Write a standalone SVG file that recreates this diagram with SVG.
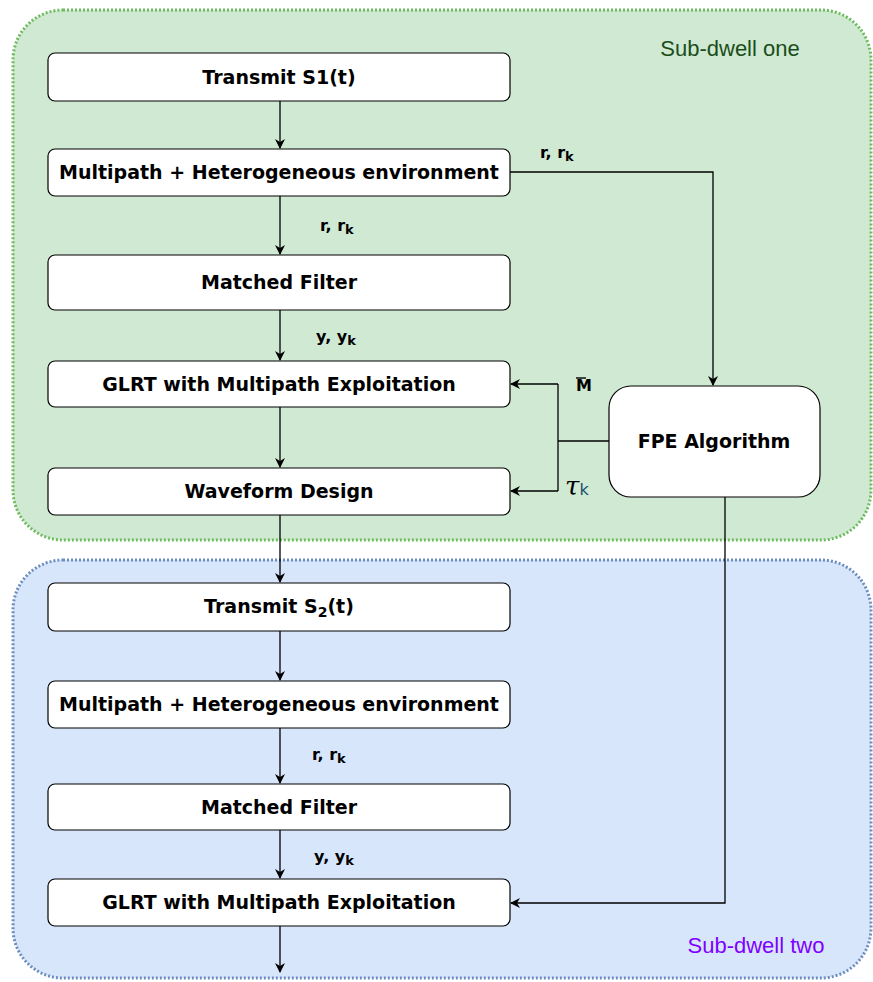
<svg xmlns="http://www.w3.org/2000/svg" width="873" height="982" viewBox="0 0 873 982">
<defs>
<marker id="ah" markerWidth="10" markerHeight="10" refX="9" refY="5" orient="auto" markerUnits="userSpaceOnUse">
<path d="M0,0 L10,5 L0,10 L3,5 Z" fill="#000"/>
</marker>
<style>
.box{fill:#fff;stroke:#000;stroke-width:1.2}
.t{font-family:"DejaVu Sans",Verdana,sans-serif;font-weight:bold;font-size:19px;fill:#000;text-anchor:middle}
.lbl{font-family:"DejaVu Sans",Verdana,sans-serif;font-weight:bold;font-size:16px;fill:#000}
.sub{font-size:13px}
.c{fill:none;stroke:#000;stroke-width:1.3}
</style>
</defs>
<rect x="0" y="0" width="873" height="982" fill="#fff"/>
<g id="subdwell-one">
<rect x="13" y="10" width="858" height="530" rx="50" fill="#d0e9d2" stroke="#6dbb5e" stroke-width="3" stroke-dasharray="2 2"/>
<text x="730" y="56" font-family="Liberation Sans,Arial,sans-serif" font-size="22" fill="#1a4d1a" text-anchor="middle">Sub-dwell one</text>
</g>
<g id="subdwell-two">
<rect x="13" y="560" width="858" height="418" rx="50" fill="#d8e6fb" stroke="#6c8ebf" stroke-width="3" stroke-dasharray="2 2"/>
<text x="756" y="953" font-family="Liberation Sans,Arial,sans-serif" font-size="22" fill="#7f00ff" text-anchor="middle">Sub-dwell two</text>
</g>
<g id="connectors">
<path class="c" d="M280,101 V148" marker-end="url(#ah)"/>
<path class="c" d="M280,196 V254" marker-end="url(#ah)"/>
<path class="c" d="M280,310 V360" marker-end="url(#ah)"/>
<path class="c" d="M280,407 V467" marker-end="url(#ah)"/>
<path class="c" d="M280,515 V582" marker-end="url(#ah)"/>
<path class="c" d="M280,631 V680" marker-end="url(#ah)"/>
<path class="c" d="M280,728 V783" marker-end="url(#ah)"/>
<path class="c" d="M280,830 V878" marker-end="url(#ah)"/>
<path class="c" d="M280,926 V972" marker-end="url(#ah)"/>
<path class="c" d="M510,172 H713 V385" marker-end="url(#ah)"/>
<path class="c" d="M609,441 H558"/>
<path class="c" d="M558,384 V491"/>
<path class="c" d="M558,384 H511" marker-end="url(#ah)"/>
<path class="c" d="M558,491 H511" marker-end="url(#ah)"/>
<path class="c" d="M725,497 V903 H511" marker-end="url(#ah)"/>
</g>
<g id="labels">
<text class="lbl" x="540" y="158">r, r<tspan class="sub" dy="3">k</tspan></text>
<text class="lbl" x="320" y="231">r, r<tspan class="sub" dy="3">k</tspan></text>
<text class="lbl" x="316" y="342">y, y<tspan class="sub" dy="3">k</tspan></text>
<text class="lbl" x="576" y="391" font-size="12">M</text>
<line x1="576" y1="378" x2="586" y2="378" stroke="#000" stroke-width="1.4"/>
<text x="565" y="495" font-family="DejaVu Serif,serif" font-style="italic" font-size="26" fill="#000">τ<tspan font-family="DejaVu Sans,sans-serif" font-style="normal" font-size="16" fill="#1a4d6a">k</tspan></text>
<text class="lbl" x="312" y="760">r, r<tspan class="sub" dy="3">k</tspan></text>
<text class="lbl" x="314" y="862">y, y<tspan class="sub" dy="3">k</tspan></text>
</g>
<g id="transmit1"><rect class="box" x="48" y="53" width="462" height="48" rx="7"/><text class="t" x="279" y="84">Transmit S1(t)</text></g>
<g id="multipath1"><rect class="box" x="48" y="149" width="462" height="47" rx="7"/><text class="t" x="279" y="179">Multipath + Heterogeneous environment</text></g>
<g id="matched1"><rect class="box" x="48" y="255" width="462" height="55" rx="7"/><text class="t" x="279" y="289">Matched Filter</text></g>
<g id="glrt1"><rect class="box" x="48" y="361" width="462" height="46" rx="7"/><text class="t" x="279" y="391">GLRT with Multipath Exploitation</text></g>
<g id="waveform"><rect class="box" x="48" y="468" width="462" height="47" rx="7"/><text class="t" x="279" y="498">Waveform Design</text></g>
<g id="fpe"><rect class="box" x="609" y="386" width="211" height="111" rx="22"/><text class="t" x="714" y="448">FPE Algorithm</text></g>
<g id="transmit2"><rect class="box" x="48" y="583" width="462" height="48" rx="7"/><text class="t" x="279" y="613">Transmit S<tspan font-size="14" dy="4">2</tspan><tspan dy="-4">(t)</tspan></text></g>
<g id="multipath2"><rect class="box" x="48" y="681" width="462" height="47" rx="7"/><text class="t" x="279" y="711">Multipath + Heterogeneous environment</text></g>
<g id="matched2"><rect class="box" x="48" y="784" width="462" height="46" rx="7"/><text class="t" x="279" y="814">Matched Filter</text></g>
<g id="glrt2"><rect class="box" x="48" y="879" width="462" height="47" rx="7"/><text class="t" x="279" y="909">GLRT with Multipath Exploitation</text></g>
</svg>
